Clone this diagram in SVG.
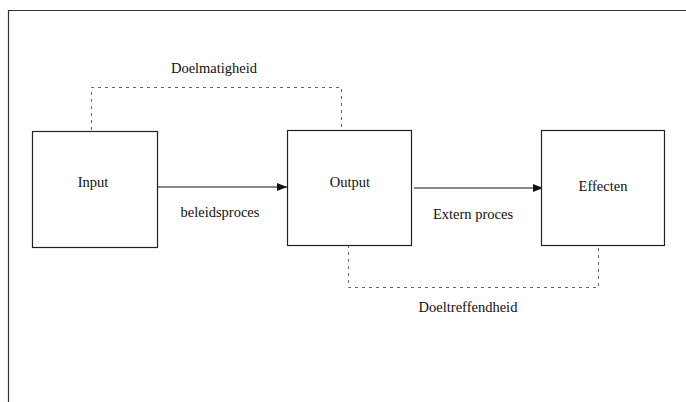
<svg xmlns="http://www.w3.org/2000/svg" width="686" height="402" viewBox="0 0 686 402">
<style>
.t{font-family:'Liberation Serif','Times New Roman',serif;font-size:14.5px;fill:#111;text-anchor:middle}
.box{fill:#fff;stroke:#222;stroke-width:1.2}
.dot{fill:none;stroke:#666;stroke-width:1;stroke-dasharray:3,4}
.arr{stroke:#111;stroke-width:1.2;fill:none}
</style>
<defs>
<marker id="ah" markerWidth="10" markerHeight="8" refX="10" refY="4" orient="auto" markerUnits="userSpaceOnUse">
<path d="M0,0 L10,4 L0,8 Z" fill="#111"/>
</marker>
</defs>
<rect width="686" height="402" fill="#fff"/>
<path d="M8.5,402 V10.5 H686" fill="none" stroke="#333" stroke-width="1.2"/>
<g id="connectors">
<path class="dot" d="M91.5,130 V87.5 H341.5 V130"/>
<path class="dot" d="M348.5,245 V287.5 H598.5 V245"/>
<line class="arr" x1="157" y1="187" x2="287" y2="187" marker-end="url(#ah)"/>
<line class="arr" x1="414" y1="188" x2="543" y2="188" marker-end="url(#ah)"/>
<text class="t" x="214" y="73">Doelmatigheid</text>
<text class="t" x="220" y="217">beleidsproces</text>
<text class="t" x="473" y="219">Extern proces</text>
<text class="t" x="468" y="312">Doeltreffendheid</text>
</g>
<g id="input">
<rect class="box" x="32.5" y="131.5" width="125" height="116"/>
<text class="t" x="93" y="187">Input</text>
</g>
<g id="output">
<rect class="box" x="287.5" y="130.5" width="124" height="115"/>
<text class="t" x="350" y="187">Output</text>
</g>
<g id="effecten">
<rect class="box" x="541.5" y="130.5" width="123" height="115"/>
<text class="t" x="603" y="191">Effecten</text>
</g>
</svg>
